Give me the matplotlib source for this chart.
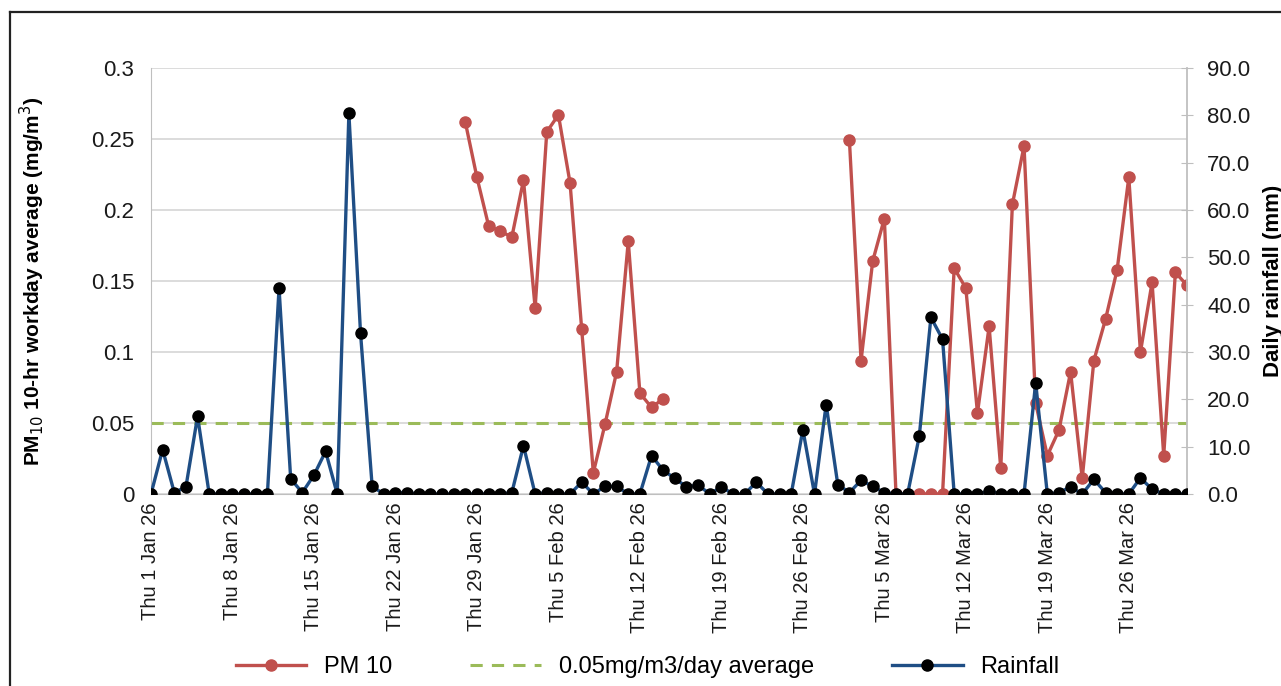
import numpy as np
import pandas as pd
import matplotlib
matplotlib.use("Agg")
import matplotlib.pyplot as plt
from matplotlib.lines import Line2D

plt.rcParams['font.family'] = ['Liberation Sans', 'DejaVu Sans']

# daily series, Thu 1 Jan 26 .. Tue 31 Mar 26
dates = pd.date_range("2026-01-01", periods=90, freq="D")

rainfall_mm = [
    0, 9.4, 0.3, 1.5, 16.4, 0, 0, 0, 0, 0,
    0, 43.5, 3.2, 0.3, 4.0, 9.0, 0, 80.4, 34.0, 1.6,
    0, 0.3, 0.3, 0, 0, 0, 0, 0, 0, 0,
    0, 0.3, 10.2, 0, 0.3, 0, 0, 2.5, 0, 1.6,
    1.6, 0, 0, 8.1, 5.0, 3.3, 1.5, 1.9, 0, 1.5,
    0, 0, 2.5, 0, 0, 0, 13.6, 0, 18.9, 2.0,
    0.3, 2.9, 1.6, 0.3, 0, 0, 12.2, 37.3, 32.7, 0,
    0, 0, 0.6, 0, 0, 0, 23.5, 0, 0.3, 1.5,
    0, 3.1, 0.3, 0, 0, 3.4, 1.0, 0, 0, 0,
]

nan = np.nan
pm10 = [nan] * 27 + [
    0.262, 0.223, 0.189, 0.185, 0.181, 0.221, 0.131, 0.255, 0.267, 0.219,
    0.116, 0.015, 0.049, 0.086, 0.178, 0.071, 0.061, 0.067,
] + [nan] * 15 + [
    0.249, 0.094, 0.164, 0.194, 0, 0, 0, 0, 0, 0.159,
    0.145, 0.057, 0.118, 0.018, 0.204, 0.245, 0.064, 0.027, 0.045, 0.086,
    0.011, 0.094, 0.123, 0.158, 0.223, 0.100, 0.149, 0.027, 0.156, 0.147,
]

threshold = 0.05

tick_dates = pd.date_range("2026-01-01", "2026-03-26", freq="7D")
tick_labels = ["Thu 1 Jan 26", "Thu 8 Jan 26", "Thu 15 Jan 26", "Thu 22 Jan 26",
               "Thu 29 Jan 26", "Thu 5 Feb 26", "Thu 12 Feb 26", "Thu 19 Feb 26",
               "Thu 26 Feb 26", "Thu 5 Mar 26", "Thu 12 Mar 26", "Thu 19 Mar 26",
               "Thu 26 Mar 26"]
left_ticks = [0, 0.05, 0.1, 0.15, 0.2, 0.25, 0.3]
left_labels = ["0", "0.05", "0.1", "0.15", "0.2", "0.25", "0.3"]
right_ticks = [0, 10, 20, 30, 40, 50, 60, 70, 80, 90]

red = "#C0504D"
navy = "#1F4E85"
green = "#9BBB59"
grid = "#D9D9D9"

fig = plt.figure(figsize=(12.81, 6.86), dpi=100)
ax = fig.add_axes([151 / 1281, 1 - 494 / 686, 1036 / 1281, 426 / 686])
ax2 = ax.twinx()

ax.plot(dates, pm10, color=red, lw=2.4, marker="o", ms=8, mec=red, mfc=red,
        label="PM 10", zorder=3)
ax.plot([dates[0], dates[-1]], [threshold, threshold], color=green, lw=2.2,
        ls=(0, (4, 3)), label="0.05mg/m3/day average", zorder=2)
ax2.plot(dates, rainfall_mm, color=navy, lw=2.4, marker="o", ms=8, mec="black",
         mfc="black", label="Rainfall", zorder=3)

ax.set_xlim(dates[0], dates[-1])
ax.set_ylim(0, 0.3)
ax2.set_ylim(0, 90)

ax.set_yticks(left_ticks)
ax.set_yticklabels(left_labels)
ax2.set_yticks(right_ticks)
ax2.set_yticklabels([f"{v:.1f}" for v in right_ticks])
ax.set_xticks(tick_dates)
ax.set_xticklabels(tick_labels, rotation=90)

ax.yaxis.grid(True, color=grid, lw=1.3)
ax.set_axisbelow(True)
for a in (ax, ax2):
    for s in a.spines.values():
        s.set_visible(False)
ax.spines["left"].set_visible(True)
ax.spines["left"].set_color("#BFBFBF")
ax.spines["bottom"].set_visible(True)
ax.spines["bottom"].set_color("#BFBFBF")
ax2.spines["right"].set_visible(True)
ax2.spines["right"].set_color("#BFBFBF")
ax2.spines["right"].set_linewidth(1.3)

ax.tick_params(axis="y", length=0, pad=12, labelsize=16, labelcolor="#1a1a1a")
ax.tick_params(axis="x", length=0, pad=6, labelsize=14.5, labelcolor="#1a1a1a")
ax2.tick_params(axis="y", direction="inout", length=9, color="#BFBFBF", pad=10,
                labelsize=16, labelcolor="#1a1a1a")

ax.set_ylabel("PM$_{10}$ 10-hr workday average (mg/m$^3$)", fontsize=15,
              fontweight="bold")
ax.yaxis.set_label_coords(-0.100, 0.5)
ax2.set_ylabel("Daily rainfall (mm)", fontsize=16, fontweight="bold")
ax2.yaxis.set_label_coords(1.073, 0.5)

handles = ax.get_lines() + ax2.get_lines()
fig.legend(handles, [h.get_label() for h in handles], loc="center",
           bbox_to_anchor=(0.5055, 0.028), ncol=3, frameon=False, fontsize=17,
           handlelength=3.0, columnspacing=3.3, handletextpad=0.75)

# outer frame (top and left edges visible)
fig.add_artist(Line2D([10 / 1281, 10 / 1281], [0, 1 - 12 / 686], color="#222222",
                      lw=1.6, transform=fig.transFigure))
fig.add_artist(Line2D([10 / 1281, 1], [1 - 12 / 686, 1 - 12 / 686], color="#222222",
                      lw=1.6, transform=fig.transFigure))

fig.savefig("out.png", dpi=100)
